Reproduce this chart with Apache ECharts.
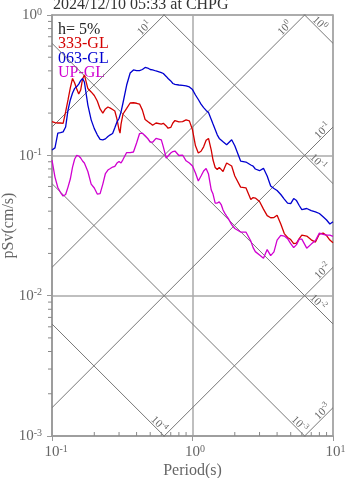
<!DOCTYPE html>
<html>
<head>
<meta charset="utf-8">
<title>pSv CHPG</title>
<script src="https://cdn.jsdelivr.net/npm/echarts@6/dist/echarts.min.js"></script>
<style>
html, body { margin: 0; padding: 0; background: #fff; }
#main { width: 347px; height: 478px; }
</style>
</head>
<body>
<div id="main"></div>
<script>
// periods (s) and pSv (cm/s)
var periods = [0.10,0.105,0.11,0.115,0.12,0.125,0.13,0.135,0.14,0.145,0.15,0.155,0.16,0.165,0.17,
  0.18,0.19,0.20,0.21,0.22,0.23,0.24,0.25,0.26,0.27,0.28,0.29,0.30,0.305,0.31,
  0.32,0.34,0.36,0.38,0.40,0.42,0.44,0.46,0.48,0.50,
  0.52,0.55,0.60,0.62,0.65,0.67,0.70,0.725,0.75,0.80,0.85,0.90,0.95,
  1.0,1.05,1.1,1.15,1.2,1.25,1.3,1.36,1.4,1.45,1.5,1.55,1.6,1.65,1.7,1.75,1.8,1.9,2.0,
  2.2,2.4,2.6,2.7,2.8,3.0,3.2,3.4,3.6,3.8,4.0,
  4.25,4.5,4.75,5.0,5.25,5.5,5.75,6.0,
  6.5,7.0,7.5,8.0,8.5,9.0,9.5,10];

var sv333 = [0.174,0.171,0.170,0.170,0.169,0.204,0.248,0.302,0.353,0.328,0.297,0.274,0.292,0.350,0.374,
  0.299,0.283,0.267,0.244,0.214,0.200,0.214,0.221,0.217,0.212,0.207,0.181,0.152,0.144,0.167,
  0.197,0.216,0.236,0.237,0.235,0.232,0.210,0.180,0.174,0.169,
  0.164,0.170,0.167,0.169,0.162,0.156,0.158,0.170,0.177,0.173,0.174,0.179,0.176,
  0.152,0.117,0.104,0.107,0.115,0.128,0.132,0.109,0.0926,0.0819,0.0792,0.0821,0.0799,0.0767,0.0825,0.0881,0.0896,0.0839,0.0712,
  0.0594,0.0587,0.0484,0.0500,0.0496,0.0469,0.0414,0.0372,0.0359,0.0360,0.0374,
  0.0324,0.0277,0.0260,0.0251,0.0235,0.0237,0.0255,0.0270,
  0.0266,0.0250,0.0241,0.0275,0.0279,0.0268,0.0249,0.0238];

var sv063 = [0.109,0.113,0.144,0.145,0.147,0.159,0.210,0.248,0.278,0.300,0.309,0.322,0.341,0.353,0.333,
  0.228,0.179,0.155,0.140,0.130,0.129,0.131,0.136,0.140,0.143,0.157,0.173,0.183,0.188,0.204,
  0.236,0.317,0.386,0.406,0.402,0.402,0.409,0.423,0.419,0.409,
  0.406,0.399,0.389,0.383,0.365,0.353,0.339,0.325,0.320,0.317,0.315,0.313,0.307,
  0.294,0.269,0.250,0.232,0.219,0.209,0.202,0.180,0.167,0.153,0.140,0.132,0.128,0.125,0.122,0.119,0.119,0.129,0.117,
  0.0911,0.0896,0.0853,0.0839,0.0799,0.0777,0.0808,0.0712,0.0604,0.0580,0.0561,
  0.0526,0.0488,0.0457,0.0453,0.0492,0.0476,0.0439,0.0411,
  0.0418,0.0404,0.0396,0.0385,0.0365,0.0346,0.0324,0.0336];

var svUP = [0.0926,0.0700,0.0590,0.0543,0.0513,0.0526,0.0594,0.0678,0.0825,0.0941,0.100,0.0989,0.0957,0.0911,0.0881,
  0.0767,0.0624,0.0585,0.0530,0.0534,0.0624,0.0742,0.0786,0.0805,0.0825,0.0835,0.0881,0.0903,0.0896,0.0881,
  0.0933,0.1047,0.1047,0.1056,0.1224,0.143,0.144,0.138,0.132,0.124,
  0.124,0.132,0.129,0.115,0.0957,0.0989,0.1038,0.1064,0.1073,0.0997,0.1005,0.0914,0.0881,
  0.0839,0.0748,0.0656,0.0712,0.0773,0.0805,0.0736,0.0566,0.0530,0.0457,0.0457,0.0466,0.0446,0.0408,0.0386,0.0369,0.0354,0.0321,0.0301,
  0.0284,0.0284,0.0245,0.0220,0.0206,0.0195,0.0185,0.0213,0.0193,0.0205,0.0249,
  0.0269,0.0266,0.0255,0.0235,0.0220,0.0231,0.0253,0.0253,
  0.0218,0.0233,0.0247,0.0279,0.0273,0.0270,0.0270,0.0265];

// tripartite grid: displacement (cm) and acceleration (cm/s^2) lines
var dispVals = [1e-4, 1e-3, 1e-2, 1e-1, 1];
var accVals = [1e-3, 1e-2, 1e-1, 1, 10];

var minorX = [0.2,0.3,0.4,0.5,0.6,0.7,0.8,0.9,2,3,4,5,6,7,8,9];
var minorY = [0.002,0.003,0.004,0.005,0.006,0.007,0.008,0.009,
  0.02,0.03,0.04,0.05,0.06,0.07,0.08,0.09,0.2,0.3,0.4,0.5,0.6,0.7,0.8,0.9];

var FONT = '"Liberation Serif", "DejaVu Serif", serif';
var TWO_PI = 2 * Math.PI;
var Tmin = 0.1, Tmax = 10, Smin = 0.001, Smax = 1;

function pairs(ys) {
  return periods.map(function (t, i) { return [t, ys[i]]; });
}
function expo(v) { return Math.round(Math.log(v) / Math.LN10); }

// diagonal lines (clipped by the grid)
var diagSeries = [];
dispVals.forEach(function (d) {
  diagSeries.push([[Tmin, TWO_PI * d / Tmin], [Tmax, TWO_PI * d / Tmax]]);
});
accVals.forEach(function (a) {
  diagSeries.push([[Tmin, a * Tmin / TWO_PI], [Tmax, a * Tmax / TWO_PI]]);
});

// where the labels of the diagonal lines sit: [T, Sv, exponent, kind]
var diagLabels = [];
accVals.forEach(function (a) {
  var t = TWO_PI * 0.763 / a;
  if (t < 8.9) diagLabels.push([t, 0.763, expo(a), 0]);
  else diagLabels.push([8.9, a * 8.9 / TWO_PI, expo(a), 0]);
});
dispVals.forEach(function (d) {
  var t = TWO_PI * d / 0.00115;
  if (t < 5.5) diagLabels.push([t, 0.00115, expo(d), 1]);
  else if (d >= 1) diagLabels.push([7.6, TWO_PI * d / 7.6, expo(d), 1]);
  else diagLabels.push([7.39, TWO_PI * d / 7.39, expo(d), 1]);
});

var ticks = [];
minorX.forEach(function (t) { ticks.push([t, Smin, 0]); });
minorY.forEach(function (s) { ticks.push([Tmin, s, 1]); });

var myChart = echarts.init(document.getElementById('main'));

var series = diagSeries.map(function (d) {
  return {
    type: 'line',
    data: d,
    symbol: 'none',
    silent: true,
    clip: true,
    lineStyle: { color: '#777', width: 1 },
    z: 1
  };
});

series.push({
  type: 'custom',
  data: diagLabels,
  silent: true,
  z: 2,
  renderItem: function (params, api) {
    var p = api.coord([api.value(0), api.value(1)]);
    var kind = api.value(3);
    var off = 3.9;
    return {
      type: 'text',
      x: p[0] + (kind === 0 ? -off : off),
      y: p[1] - off,
      rotation: kind === 0 ? Math.PI / 4 : -Math.PI / 4,
      style: {
        text: '{b|10}{e|' + api.value(2) + '}',
        align: 'center',
        verticalAlign: 'middle',
        rich: {
          b: { fontSize: 11, fontFamily: FONT, fill: '#666', lineHeight: 13, verticalAlign: 'bottom' },
          e: { fontSize: 8, fontFamily: FONT, fill: '#666', lineHeight: 8, verticalAlign: 'top' }
        }
      }
    };
  }
});

series.push({
  type: 'custom',
  data: ticks,
  silent: true,
  z: 3,
  renderItem: function (params, api) {
    var p = api.coord([api.value(0), api.value(1)]);
    var isY = api.value(2) === 1;
    var shape = isY ? { x1: p[0] - 4, y1: p[1], x2: p[0], y2: p[1] }
                    : { x1: p[0], y1: p[1], x2: p[0], y2: p[1] - 4 };
    return { type: 'line', shape: shape, style: { stroke: '#888', lineWidth: 1 } };
  }
});

series.push(
  { name: '333-GL', type: 'line', data: pairs(sv333), symbol: 'none', z: 5,
    lineStyle: { color: '#d40000', width: 1.3 } },
  { name: '063-GL', type: 'line', data: pairs(sv063), symbol: 'none', z: 5,
    lineStyle: { color: '#0000d0', width: 1.3 } },
  { name: 'UP-GL', type: 'line', data: pairs(svUP), symbol: 'none', z: 5,
    lineStyle: { color: '#d000d0', width: 1.3 } }
);

var axisRich = {
  b: { fontSize: 15, fontFamily: FONT, color: '#666', lineHeight: 16, verticalAlign: 'bottom' },
  e: { fontSize: 10, fontFamily: FONT, color: '#666', lineHeight: 10, verticalAlign: 'top' },
  h: { fontSize: 10, fontFamily: FONT, color: 'rgba(0,0,0,0)', lineHeight: 10, verticalAlign: 'top' }
};

var option = {
  animation: false,
  title: {
    text: '2024/12/10 05:33 at CHPG',
    left: 53,
    top: -3,
    padding: 0,
    textStyle: { fontFamily: FONT, fontSize: 16, fontWeight: 'normal', color: '#333' }
  },
  grid: {
    left: 52, right: 14, top: 15, bottom: 42,
    outerBoundsMode: 'none',
    containLabel: false,
    show: true, borderColor: '#999', borderWidth: 1.5, backgroundColor: 'transparent'
  },
  xAxis: {
    type: 'log', logBase: 10, min: Tmin, max: Tmax,
    name: 'Period(s)', nameLocation: 'middle', nameGap: 27, nameMoveOverlap: false,
    nameTextStyle: { fontFamily: FONT, fontSize: 16, color: '#666' },
    axisLine: { lineStyle: { color: '#999', width: 1.5 } },
    axisTick: { length: 5, lineStyle: { color: '#999' } },
    splitLine: { show: true, lineStyle: { color: '#aaa', width: 1.5 } },
    axisLabel: {
      margin: 8,
      hideOverlap: false,
      formatter: function (v) { var e = expo(v); return '{h|' + e + '}{b|10}{e|' + e + '}'; },
      rich: axisRich
    }
  },
  yAxis: {
    type: 'log', logBase: 10, min: Smin, max: Smax,
    name: 'pSv(cm/s)', nameLocation: 'middle', nameGap: 35, nameMoveOverlap: false,
    nameTextStyle: { fontFamily: FONT, fontSize: 16, color: '#666' },
    axisLine: { lineStyle: { color: '#999', width: 1.5 } },
    axisTick: { length: 5, lineStyle: { color: '#999' } },
    splitLine: { show: true, lineStyle: { color: '#aaa', width: 1.5 } },
    axisLabel: {
      margin: 10,
      formatter: function (v) { return '{b|10}{e|' + expo(v) + '}'; },
      rich: axisRich
    }
  },
  graphic: [
    { type: 'text', left: 58, top: 22, style: { text: 'h= 5%', font: '16px ' + FONT, fill: '#222' } },
    { type: 'text', left: 58, top: 36, style: { text: '333-GL', font: '16px ' + FONT, fill: '#d40000' } },
    { type: 'text', left: 58, top: 51, style: { text: '063-GL', font: '16px ' + FONT, fill: '#0000d0' } },
    { type: 'text', left: 58, top: 65, style: { text: 'UP-GL', font: '16px ' + FONT, fill: '#d000d0' } }
  ],
  series: series
};

myChart.setOption(option);
</script>
</body>
</html>
